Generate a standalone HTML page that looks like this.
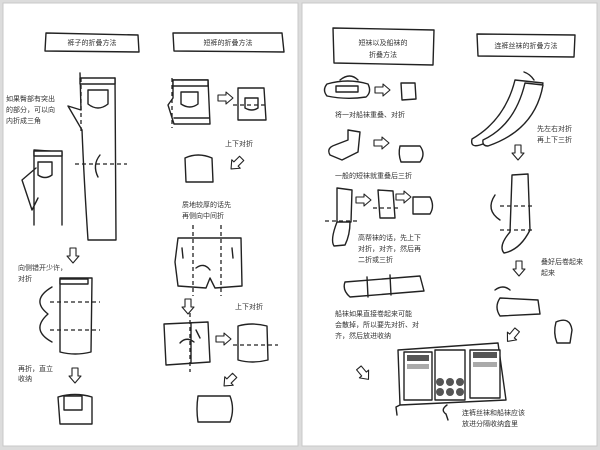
<!DOCTYPE html>
<html><head><meta charset="utf-8"><style>
html,body{margin:0;padding:0;background:#dcdcdc;width:600px;height:450px;overflow:hidden}
svg{display:block}
text{font-family:"Liberation Sans","Noto Sans CJK SC",sans-serif;font-size:7px;fill:#333}
.s{fill:none;stroke:#222;stroke-width:1.4;stroke-linejoin:round;stroke-linecap:round}
.w{fill:#fff;stroke:#222;stroke-width:1.4;stroke-linejoin:round}
.d{fill:none;stroke:#222;stroke-width:1.3;stroke-dasharray:4 3}
.a{fill:#fff;stroke:#222;stroke-width:1.1;stroke-linejoin:round}
</style></head><body>
<svg width="600" height="450" viewBox="0 0 600 450">
<defs>
<path id="ad" d="M-3,-8 L3,-8 L3,0 L6,0 L0,7 L-6,0 L-3,0 Z"/>
</defs>
<rect x="3" y="3" width="295" height="443" fill="#fff" stroke="#c8c8c8"/>
<rect x="302" y="3" width="295" height="443" fill="#fff" stroke="#c8c8c8"/>

<path class="s" d="M46,33 L138,35 L139,52 L45,51 Z"/>
<text x="92" y="45" text-anchor="middle">裤子的折叠方法</text>
<path class="s" d="M173,33 L282,33 L284,52 L174,51 Z"/>
<text x="228" y="45" text-anchor="middle">短裤的折叠方法</text>
<path class="s" d="M333,28 L434,30 L433,65 L334,63 Z"/>
<text x="383" y="45" text-anchor="middle">短袜以及船袜的</text>
<text x="383" y="57" text-anchor="middle">折叠方法</text>
<path class="s" d="M477,34 L575,35 L574,57 L478,56 Z"/>
<text x="526" y="48" text-anchor="middle">连裤丝袜的折叠方法</text>

<path class="s" d="M80,73 L81,110 L68,106 L82,130 C84,180 86,210 88,240 M115,78 L116,240 M88,240 L116,240"/>
<rect class="w" x="80" y="78" width="35" height="6"/>
<path class="s" d="M88,90 L108,90 L108,104 Q98,112 88,104 Z"/>
<line class="d" x1="81" y1="78" x2="81" y2="132"/>
<line class="d" x1="75" y1="164" x2="127" y2="164"/>
<path class="s" d="M100,155 Q92,165 98,177"/>
<text x="6" y="101">如果臀部有突出</text>
<text x="6" y="112">的部分，可以向</text>
<text x="6" y="123">内折成三角</text>
<path class="s" d="M34,150 L62,152 L62,225 M34,150 L34,225 M36,168 L22,180 L32,210 L38,198"/>
<rect class="w" x="34" y="151" width="28" height="5"/>
<path class="s" d="M38,162 L52,162 L52,175 Q45,180 38,175 Z"/>
<use href="#ad" class="a" transform="translate(73,256)"/>
<text x="18" y="270">向侧错开少许，</text>
<text x="18" y="281">对折</text>
<path class="w" d="M60,278 L92,278 L91,352 Q75,356 60,352 Z"/>
<rect class="w" x="60" y="279" width="28" height="5"/>
<line class="d" x1="50" y1="302" x2="100" y2="302"/>
<line class="d" x1="50" y1="330" x2="100" y2="330"/>
<path class="s" d="M52,287 Q30,300 48,314 Q30,330 52,342"/>
<text x="18" y="371">再折，直立</text>
<text x="18" y="381">收纳</text>
<use href="#ad" class="a" transform="translate(75,376)"/>
<path class="w" d="M58,397 Q75,392 92,397 L92,424 L60,424 Z"/>
<rect class="w" x="64" y="396" width="18" height="14"/>

<path class="w" d="M173,80 L208,80 L210,124 L174,124 L168,105 L173,98 Z"/>
<rect class="w" x="173" y="80" width="35" height="6"/>
<path class="s" d="M181,92 L198,92 L198,104 Q190,110 181,104 Z M174,118 L209,118"/>
<line class="d" x1="172" y1="78" x2="172" y2="128"/>
<use href="#ad" class="a" transform="translate(226,98) rotate(-90)"/>
<path class="w" d="M238,88 L264,88 L266,120 L238,120 Z"/>
<path class="s" d="M245,98 L258,98 L258,108 Q252,112 245,108 Z"/>
<line class="d" x1="233" y1="105" x2="268" y2="105"/>
<text x="225" y="146">上下对折</text>
<use href="#ad" class="a" transform="translate(236,164) rotate(45)"/>
<path class="w" d="M185,158 Q198,152 212,158 L213,182 L186,182 Z"/>
<text x="182" y="207">质地较厚的话先</text>
<text x="182" y="218">再侧向中间折</text>
<path class="w" d="M178,238 L241,238 L242,286 L215,288 L210,278 L206,288 L178,286 L175,262 Z"/>
<line class="d" x1="193" y1="225" x2="193" y2="296"/>
<line class="d" x1="221" y1="225" x2="221" y2="296"/>
<path class="s" d="M182,248 L183,258 M232,248 L233,258 M196,268 Q204,262 210,270"/>
<use href="#ad" class="a" transform="translate(188,307)"/>
<text x="235" y="309">上下对折</text>
<path class="w" d="M164,324 L208,322 L210,362 L166,365 Z"/>
<line class="s" x1="191" y1="323" x2="191" y2="363"/>
<line class="d" x1="190" y1="313" x2="190" y2="372"/>
<path class="s" d="M196,330 L200,338 M180,343 Q186,336 194,342"/>
<use href="#ad" class="a" transform="translate(224,339) rotate(-90)"/>
<path class="w" d="M238,326 Q252,322 267,326 L268,360 Q252,364 238,360 Z"/>
<line class="d" x1="233" y1="345" x2="278" y2="345"/>
<use href="#ad" class="a" transform="translate(229,381) rotate(45)"/>
<path class="w" d="M198,396 L230,396 Q235,409 230,422 L198,422 Q196,409 198,396 Z"/>

<path class="w" d="M327,84 Q348,78 368,84 Q372,92 366,97 Q346,100 327,96 Q322,90 327,84 Z"/>
<rect class="w" x="336" y="86" width="22" height="6"/>
<path class="s" d="M340,80 Q350,72 358,80"/>
<use href="#ad" class="a" transform="translate(383,90) rotate(-90)"/>
<path class="w" d="M401,83 L415,83 L416,99 L402,100 Z"/>
<text x="335" y="117">将一对船袜重叠、对折</text>
<path class="w" d="M348,130 L360,132 L358,152 L342,160 L330,155 Q326,148 335,145 L348,140 Z"/>
<use href="#ad" class="a" transform="translate(382,143) rotate(-90)"/>
<path class="w" d="M400,146 L420,146 Q426,154 420,162 L401,162 Q398,154 400,146 Z"/>
<text x="335" y="178">一般的短袜就重叠后三折</text>
<path class="w" d="M337,188 L352,190 L351,222 L337,222 Z"/>
<line class="d" x1="325" y1="221" x2="358" y2="221"/>
<path class="s" d="M337,222 Q330,240 334,246 L345,245 Q350,235 350,222"/>
<use href="#ad" class="a" transform="translate(364,200) rotate(-90)"/>
<path class="w" d="M378,190 L393,191 L395,218 L380,218 Z"/>
<line class="d" x1="373" y1="208" x2="398" y2="208"/>
<use href="#ad" class="a" transform="translate(404,197) rotate(-90)"/>
<path class="w" d="M413,197 L430,197 Q435,206 430,214 L413,214 Z"/>
<text x="358" y="240">高帮袜的话，先上下</text>
<text x="358" y="251">对折，对齐，然后再</text>
<text x="358" y="262">二折或三折</text>
<path class="w" d="M345,282 L420,276 L424,291 L350,297 Q342,290 345,282 Z"/>
<path class="s" d="M367,277 L368,297 M390,275 L391,295"/>
<text x="335" y="316">船袜如果直接卷起来可能</text>
<text x="335" y="327">会散掉，所以要先对折、对</text>
<text x="335" y="338">齐，然后放进收纳</text>
<use href="#ad" class="a" transform="translate(364,374) rotate(-40)"/>
<path class="s" d="M398,350 L498,343 L506,400 L400,405 Z M400,405 L396,407 L397,415"/>
<rect class="w" x="404" y="352" width="28" height="48"/>
<rect class="w" x="435" y="350" width="30" height="50"/>
<rect class="w" x="470" y="350" width="30" height="48"/>
<g fill="#555"><rect x="407" y="355" width="22" height="6"/><rect x="473" y="352" width="24" height="6"/><circle cx="440" cy="382" r="4"/><circle cx="450" cy="382" r="4"/><circle cx="460" cy="382" r="4"/><circle cx="440" cy="392" r="4"/><circle cx="450" cy="392" r="4"/><circle cx="460" cy="392" r="4"/></g>
<g fill="#aaa"><rect x="407" y="364" width="22" height="5"/><rect x="473" y="362" width="24" height="5"/></g>
<path class="s" d="M447,405 Q440,410 446,414 M446,414 L448,420"/>
<text x="462" y="415">连裤丝袜和船袜应该</text>
<text x="462" y="426">放进分隔收纳盒里</text>
<path class="w" d="M515,80 L543,83 Q530,130 480,145 Q470,148 472,139 Q505,120 515,80 Z"/>
<path class="w" d="M525,83 L543,85 Q535,130 488,146 Q482,146 483,140 Q515,125 525,83 Z"/>
<path class="s" d="M524,72 Q530,74 534,80"/>
<text x="537" y="131">先左右对折</text>
<text x="537" y="142">再上下三折</text>
<use href="#ad" class="a" transform="translate(518,153)"/>
<path class="w" d="M512,175 L528,174 L530,230 Q520,250 504,253 Q498,246 510,232 Z"/>
<line class="d" x1="500" y1="206" x2="535" y2="206"/>
<line class="d" x1="500" y1="230" x2="535" y2="230"/>
<path class="s" d="M495,195 Q485,210 500,220"/>
<use href="#ad" class="a" transform="translate(519,269)"/>
<text x="541" y="264">叠好后卷起来</text>
<text x="541" y="275">起来</text>
<path class="w" d="M500,298 L538,300 L540,314 L500,316 Q494,307 500,298 Z"/>
<path class="s" d="M495,290 Q503,284 510,290"/>
<path class="w" d="M556,322 Q570,316 572,330 L570,343 L557,343 Q553,333 556,322 Z"/>
<use href="#ad" class="a" transform="translate(512,336) rotate(40)"/>
</svg>
</body></html>
